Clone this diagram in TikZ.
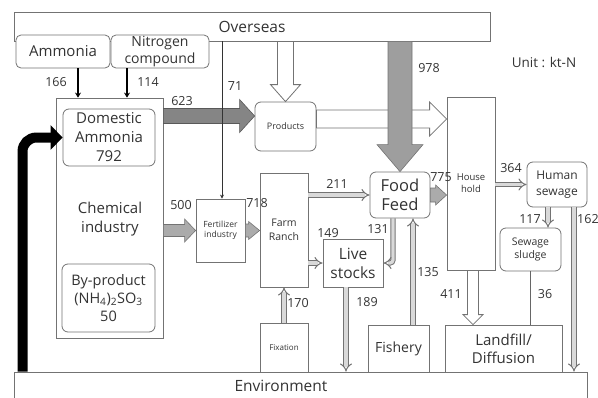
\documentclass[tikz,border=0pt]{standalone}
\usepackage{fontspec}
\setmainfont{Open Sans}
\usetikzlibrary{arrows.meta,calc}

\tikzset{
  box/.style={draw=black!55, fill=white, line width=0.8pt, inner sep=0pt, align=center, text=black!80},
  rbox/.style={box, rounded corners=6pt},
  num/.style={text=black!80, inner sep=0pt, font=\fontsize{12.5}{14}\selectfont},
  dbl/.style={draw=black!55, double=black!15, double distance=3.2pt, line width=1pt, -Implies},
  feed/.style={black, line width=2pt, -{Stealth[length=5pt,width=6pt]}},
  hollow/.style={draw=black!55, fill=white, line width=0.8pt},
  fatdark/.style={draw=black!65, fill=black!48, line width=0.6pt},
  fatmid/.style={draw=black!55, fill=black!38, line width=0.6pt},
  fatlight/.style={draw=black!55, fill=black!33, line width=0.6pt}
}

% block arrow: style, from, to, half shaft, half head, head length
\newcommand\blockarrow[6]{%
  \coordinate (ba-h) at ($#3!#6!#2$);
  \draw[#1] ($#2!#4!90:#3$) -- ($(ba-h)!#4!90:#3$) -- ($(ba-h)!#5!90:#3$) -- #3
    -- ($(ba-h)!#5!-90:#3$) -- ($(ba-h)!#4!-90:#3$) -- ($#2!#4!-90:#3$) -- cycle;
}

\begin{document}
\begin{tikzpicture}[x=1pt,y=-1pt]
  \useasboundingbox (0,0) rectangle (598,397);

  \node[box, minimum width=476pt, minimum height=29pt, font=\fontsize{15.5}{18}\selectfont] (over) at (252,26.5) {Overseas};
  \node[rbox, rounded corners=5pt, minimum width=94pt, minimum height=33pt, font=\fontsize{15}{18}\selectfont] (amm) at (63,51.5) {Ammonia};
  \node[rbox, rounded corners=5pt, minimum width=98pt, minimum height=33pt, font=\fontsize{14}{17}\selectfont] (nitro) at (160,51.5) {Nitrogen\\compound};
  \node[box, minimum width=573pt, minimum height=58pt] (env) at (300.5,401) {};
  \node[text=black!80, font=\fontsize{15.5}{18}\selectfont] (envtxt) at (281,386) {Environment};
  \node[text=black!80, font=\fontsize{13.5}{16}\selectfont] (unit) at (544,62) {Unit : kt-N};

  \node[box, minimum width=107pt, minimum height=240pt] (chem) at (109.5,218) {};
  \node[text=black!80, align=center, font=\fontsize{15}{19}\selectfont] (chemtxt) at (110,219) {Chemical\\industry};
  \node[rbox, minimum width=92pt, minimum height=57pt, font=\fontsize{15}{19}\selectfont] (dom) at (109,137.5) {Domestic\\Ammonia\\792};
  \node[rbox, minimum width=93pt, minimum height=68pt, font=\fontsize{14.5}{18}\selectfont] (byp) at (108.5,298) {By-product\\(NH\textsubscript{4})\textsubscript{2}SO\textsubscript{3}\\50};

  \node[rbox, minimum width=61pt, minimum height=49pt, font=\fontsize{9}{11}\selectfont] (prod) at (285.5,126.5) {Products};
  \node[box, minimum width=49pt, minimum height=63pt, font=\fontsize{8.5}{10}\selectfont] (fert) at (220.5,230.5) {Fertilizer\\industry};
  \node[box, minimum width=48pt, minimum height=114pt, font=\fontsize{10.5}{13.5}\selectfont] (farm) at (284,230) {Farm\\Ranch};
  \node[box, minimum width=48pt, minimum height=49pt, font=\fontsize{8}{10}\selectfont] (fix) at (284,347.5) {Fixation};
  \node[rbox, minimum width=60pt, minimum height=46pt, font=\fontsize{16.5}{19}\selectfont] (food) at (400,195) {Food\\Feed};
  \node[box, minimum width=60pt, minimum height=48pt, font=\fontsize{15.5}{19}\selectfont] (live) at (353,263) {Live\\stocks};
  \node[box, minimum width=61pt, minimum height=47pt, font=\fontsize{14}{17}\selectfont] (fish) at (398.5,348.5) {Fishery};
  \node[box, minimum width=48pt, minimum height=173pt, font=\fontsize{9.5}{12}\selectfont] (house) at (471,183.5) {House\\hold};
  \node[rbox, minimum width=60pt, minimum height=45pt, font=\fontsize{12}{16}\selectfont] (human) at (557,184.5) {Human\\sewage};
  \node[rbox, minimum width=61pt, minimum height=43pt, font=\fontsize{10.5}{12.5}\selectfont] (sludge) at (530.5,249.5) {Sewage\\sludge};
  \node[box, minimum width=117pt, minimum height=47pt, font=\fontsize{15}{18}\selectfont] (land) at (503.5,348.5) {Landfill/\\Diffusion};

  \draw[feed] (amm.south -| 78,0) -- (chem.north -| 78,0);
  \draw[feed] (nitro.south -| 127,0) -- (chem.north -| 127,0);
  \draw[line width=10pt, rounded corners=14pt, -{Triangle[width=24pt,length=12pt]}] (env.north -| 22.5,0) |- (dom.west);

  \blockarrow{hollow}{(over.south -| prod.north)}{(prod.north)}{8pt}{15pt}{17pt}
  \blockarrow{hollow}{(prod.east |- 0,119)}{(house.west |- 0,119)}{9pt}{17pt}{17pt}
  \blockarrow{fatdark}{(chem.east |- 0,116)}{(prod.west |- 0,116)}{7.5pt}{16.5pt}{15pt}
  \blockarrow{fatmid}{(over.south -| food.north)}{(food.north)}{12pt}{23pt}{27pt}
  \blockarrow{fatlight}{(chem.east |- fert.west)}{(fert.west)}{6pt}{11.5pt}{11pt}
  \blockarrow{fatlight}{(fert.east)}{(farm.west |- fert.east)}{6.5pt}{9pt}{11pt}
  \blockarrow{fatlight}{(food.east)}{(house.west |- food.east)}{7pt}{10pt}{11pt}
  \blockarrow{hollow}{(house.south -| 473,0)}{(land.north -| 473,0)}{5.5pt}{10pt}{10pt}

  \draw[line width=1pt, black!80, -{Stealth[length=4pt,width=4pt]}] (over.south -| 222,0) -- (fert.north -| 222,0);

  \draw[dbl] (farm.east |- food.west) -- (food.west);
  \draw[dbl] (farm.east |- live.west) -- (live.west);
  \draw[dbl, rounded corners=3pt] (food.south -| 393,0) |- (live.east);
  \draw[dbl] (fish.north -| 413,0) -- (food.south -| 413,0);
  \draw[dbl] (live.south -| 346,0) -- (env.north -| 346,0);
  \draw[dbl] (fix.north) -- (farm.south);
  \draw[dbl] (house.east |- human.west) -- (human.west);
  \draw[dbl] (human.south -| 548,0) -- (sludge.north -| 548,0);
  \draw[dbl] (human.south -| 574,0) -- (env.north -| 574,0);
  \draw[line width=1pt, black!60] (sludge.south) -- (sludge.south |- land.north);

  \node[num] (n166) at (56,82) {166};
  \node[num] (n114) at (148,82) {114};
  \node[num] (n71) at (235,86) {71};
  \node[num] (n623) at (182,101) {623};
  \node[num] (n978) at (429,68) {978};
  \node[num] (n500) at (181,205) {500};
  \node[num] (n718) at (257,203) {718};
  \node[num] (n211) at (337,184) {211};
  \node[num] (n149) at (328,233) {149};
  \node[num] (n131) at (378,229) {131};
  \node[num] (n775) at (441,177) {775};
  \node[num] (n364) at (511,168) {364};
  \node[num] (n117) at (530,219) {117};
  \node[num, anchor=west] (n162) at (577,219) {162};
  \node[num] (n170) at (298,303) {170};
  \node[num] (n189) at (367,302) {189};
  \node[num] (n135) at (428,272) {135};
  \node[num] (n411) at (451,294) {411};
  \node[num] (n36) at (545,294) {36};
\end{tikzpicture}
\end{document}
